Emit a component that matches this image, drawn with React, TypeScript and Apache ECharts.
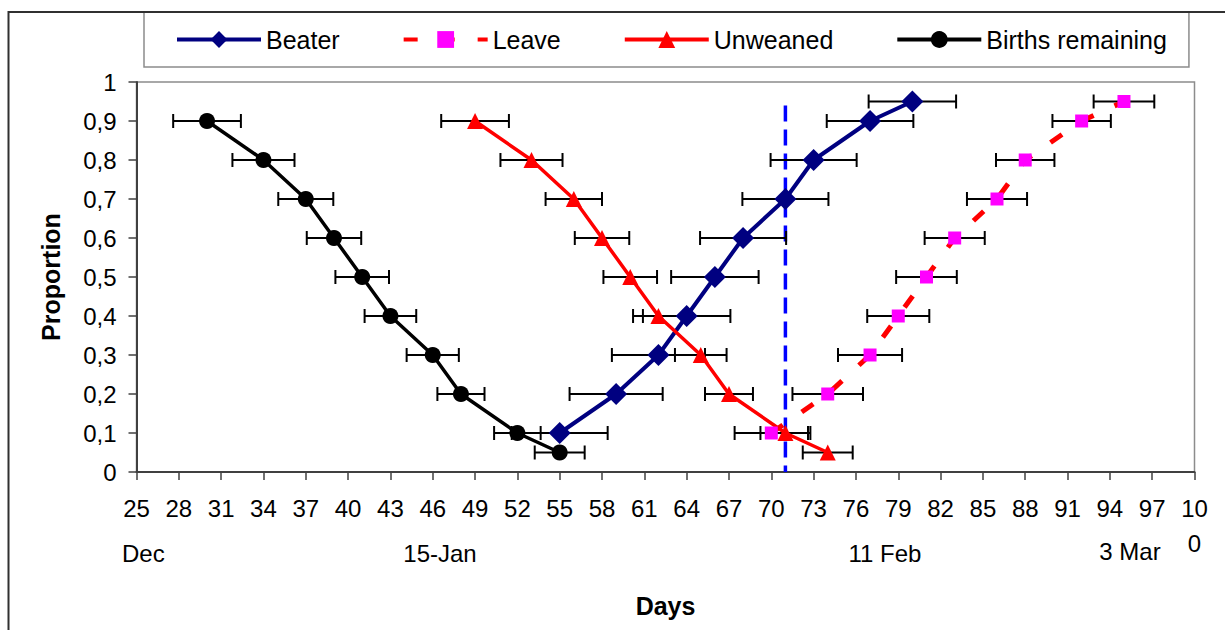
import React, { useEffect, useRef } from "react";
import * as echarts from "echarts";

// ---- Data (day index, proportion, ± error in days) ----
const X0 = 25; // first day on the x axis
const X_MAX = 100;

const beaterDays = [55, 59, 62, 64, 66, 68, 71, 73, 77, 80];
const beaterProp = [0.1, 0.2, 0.3, 0.4, 0.5, 0.6, 0.7, 0.8, 0.9, 0.95];
const beaterErr = [3.4, 3.3, 3.3, 3.1, 3.1, 3.05, 3.05, 3.05, 3.07, 3.1];

const leaveDays = [70, 74, 77, 79, 81, 83, 86, 88, 92, 95];
const leaveProp = [0.1, 0.2, 0.3, 0.4, 0.5, 0.6, 0.7, 0.8, 0.9, 0.95];
const leaveErr = [2.6, 2.5, 2.27, 2.2, 2.15, 2.13, 2.13, 2.07, 2.07, 2.15];

const unweanedDays = [49, 53, 56, 58, 60, 62, 65, 67, 71, 74];
const unweanedProp = [0.9, 0.8, 0.7, 0.6, 0.5, 0.4, 0.3, 0.2, 0.1, 0.05];
const unweanedErr = [2.4, 2.2, 2.0, 1.93, 1.9, 1.8, 1.83, 1.7, 1.77, 1.77];

const birthsDays = [30, 34, 37, 39, 41, 43, 46, 48, 52, 55];
const birthsProp = [0.9, 0.8, 0.7, 0.6, 0.5, 0.4, 0.3, 0.2, 0.1, 0.05];
const birthsErr = [2.4, 2.2, 1.95, 1.93, 1.9, 1.83, 1.85, 1.67, 1.65, 1.77];

const cutoffDay = 71;
const cutoffTop = 0.94;

const seriesNames = ["Beater", "Leave", "Unweaned", "Births remaining"];
const dateLabels = ["Dec", "15-Jan", "11 Feb", "3 Mar"];

const FONT = "'Liberation Sans', Arial, sans-serif";

function pts(days: number[], prop: number[]) {
  return days.map((d, i) => [d - X0, prop[i]]);
}
function errs(days: number[], prop: number[], err: number[]) {
  return days.map((d, i) => [d - X0, prop[i], err[i]]);
}

export default function App() {
  const ref = useRef<HTMLDivElement>(null);

  useEffect(() => {
    if (!ref.current) return;
    const chart = echarts.init(ref.current, null, { renderer: "svg" });

    const errorData = [
      ...errs(beaterDays, beaterProp, beaterErr),
      ...errs(leaveDays, leaveProp, leaveErr),
      ...errs(unweanedDays, unweanedProp, unweanedErr),
      ...errs(birthsDays, birthsProp, birthsErr),
    ];

    const textAt = (text: string, x: number, y: number, align: string) => ({
      type: "text",
      z: 100,
      style: {
        text,
        x,
        y,
        font: `24px ${FONT}`,
        fill: "#000",
        align,
        textAlign: align,
        verticalAlign: "middle",
        textVerticalAlign: "middle",
      },
    });

    const option: any = {
      animation: false,
      backgroundColor: "#ffffff",
      textStyle: { fontFamily: FONT },
      grid: {
        left: 136.5,
        right: 30.5,
        top: 82,
        bottom: 158,
        show: true,
        borderColor: "#8c8c8c",
        borderWidth: 1.5,
        backgroundColor: "transparent",
        containLabel: false,
        outerBoundsMode: "none",
      },
      legend: {
        data: seriesNames,
        left: 144,
        top: 12,
        orient: "horizontal",
        padding: [15, 22, 15, 31],
        itemGap: 62,
        itemWidth: 84,
        itemHeight: 21,
        borderColor: "#8c8c8c",
        borderWidth: 1.5,
        backgroundColor: "#ffffff",
        lineStyle: { width: 4 },
        textStyle: { fontSize: 25, color: "#000", fontFamily: FONT },
        selectedMode: false,
      },
      xAxis: {
        type: "value",
        min: 0,
        max: X_MAX - X0,
        interval: 3,
        name: "Days",
        nameLocation: "middle",
        nameGap: 121,
        nameTextStyle: { fontSize: 25, fontWeight: "bold", color: "#000", fontFamily: FONT },
        axisLine: { show: true, onZero: false, lineStyle: { color: "#404040", width: 2 } },
        axisTick: { show: true, inside: false, length: 8, lineStyle: { color: "#404040", width: 1.5 } },
        splitLine: { show: false },
        axisLabel: {
          show: true,
          showMinLabel: true,
          showMaxLabel: true,
          hideOverlap: false,
          fontSize: 24,
          color: "#000",
          fontFamily: FONT,
          margin: 19,
          lineHeight: 35,
          formatter: (v: number) => {
            const d = Math.round(v + X0);
            return d === 100 ? "10\n0" : String(d);
          },
        },
      },
      yAxis: {
        type: "value",
        min: 0,
        max: 1,
        interval: 0.1,
        name: "Proportion",
        nameLocation: "middle",
        nameRotate: 90,
        nameGap: 73,
        nameTextStyle: { fontSize: 25, fontWeight: "bold", color: "#000", fontFamily: FONT },
        axisLine: { show: true, lineStyle: { color: "#404040", width: 2 } },
        axisTick: { show: true, inside: false, length: 8, lineStyle: { color: "#404040", width: 1.5 } },
        splitLine: { show: false },
        axisLabel: {
          fontSize: 24,
          color: "#000",
          fontFamily: FONT,
          margin: 20,
          showMinLabel: true,
          showMaxLabel: true,
          formatter: (v: number) => {
            if (Math.abs(v) < 1e-9) return "0";
            if (Math.abs(v - 1) < 1e-9) return "1";
            return v.toFixed(1).replace(".", ",");
          },
        },
      },
      graphic: [
        {
          type: "rect",
          z: 100,
          silent: true,
          shape: { x: 8.5, y: 12, width: 1400, height: 800 },
          style: { fill: "none", stroke: "#303030", lineWidth: 2 },
        },
        textAt(dateLabels[0], 122, 553, "left"),
        textAt(dateLabels[1], 440, 553, "center"),
        textAt(dateLabels[2], 885, 553, "center"),
        textAt(dateLabels[3], 1130, 551, "center"),
      ],
      series: [
        {
          name: "cutoff",
          type: "line",
          z: 1,
          data: [
            [cutoffDay - X0, cutoffTop],
            [cutoffDay - X0, 0],
          ],
          symbol: "none",
          lineStyle: { color: "#0000ff", width: 3.5, type: [16, 8] },
          silent: true,
        },
        {
          name: "errors",
          type: "custom",
          z: 2,
          data: errorData,
          encode: { x: 0, y: 1 },
          clip: false,
          silent: true,
          renderItem: (params: any, api: any) => {
            const x = api.value(0);
            const y = api.value(1);
            const e = api.value(2);
            const l = api.coord([x - e, y]);
            const r = api.coord([x + e, y]);
            const h = 7;
            const st = { stroke: "#000", lineWidth: 2, fill: "none" };
            return {
              type: "group",
              children: [
                { type: "line", shape: { x1: l[0], y1: l[1], x2: r[0], y2: r[1] }, style: st },
                { type: "line", shape: { x1: l[0], y1: l[1] - h, x2: l[0], y2: l[1] + h }, style: st },
                { type: "line", shape: { x1: r[0], y1: r[1] - h, x2: r[0], y2: r[1] + h }, style: st },
              ],
            };
          },
        },
        {
          name: seriesNames[0],
          type: "line",
          z: 3,
          data: pts(beaterDays, beaterProp),
          symbol: "diamond",
          symbolSize: 22,
          showSymbol: true,
          lineStyle: { color: "#000080", width: 4 },
          itemStyle: { color: "#000080" },
        },
        {
          name: seriesNames[1],
          type: "line",
          z: 3,
          data: pts(leaveDays, leaveProp),
          symbol: "rect",
          symbolSize: 13,
          showSymbol: true,
          lineStyle: { color: "#ff0000", width: 5, type: [14, 23] },
          itemStyle: { color: "#ff00ff" },
        },
        {
          name: seriesNames[2],
          type: "line",
          z: 3,
          data: pts(unweanedDays, unweanedProp),
          symbol: "triangle",
          symbolSize: 16,
          showSymbol: true,
          lineStyle: { color: "#ff0000", width: 3.5 },
          itemStyle: { color: "#ff0000" },
        },
        {
          name: seriesNames[3],
          type: "line",
          z: 3,
          data: pts(birthsDays, birthsProp),
          symbol: "circle",
          symbolSize: 16,
          showSymbol: true,
          lineStyle: { color: "#000000", width: 3.5 },
          itemStyle: { color: "#000000" },
        },
      ],
    };

    chart.setOption(option);
    return () => {
      chart.dispose();
    };
  }, []);

  return <div ref={ref} style={{ width: 1225, height: 630, position: "absolute", left: 0, top: 0 }} />;
}
